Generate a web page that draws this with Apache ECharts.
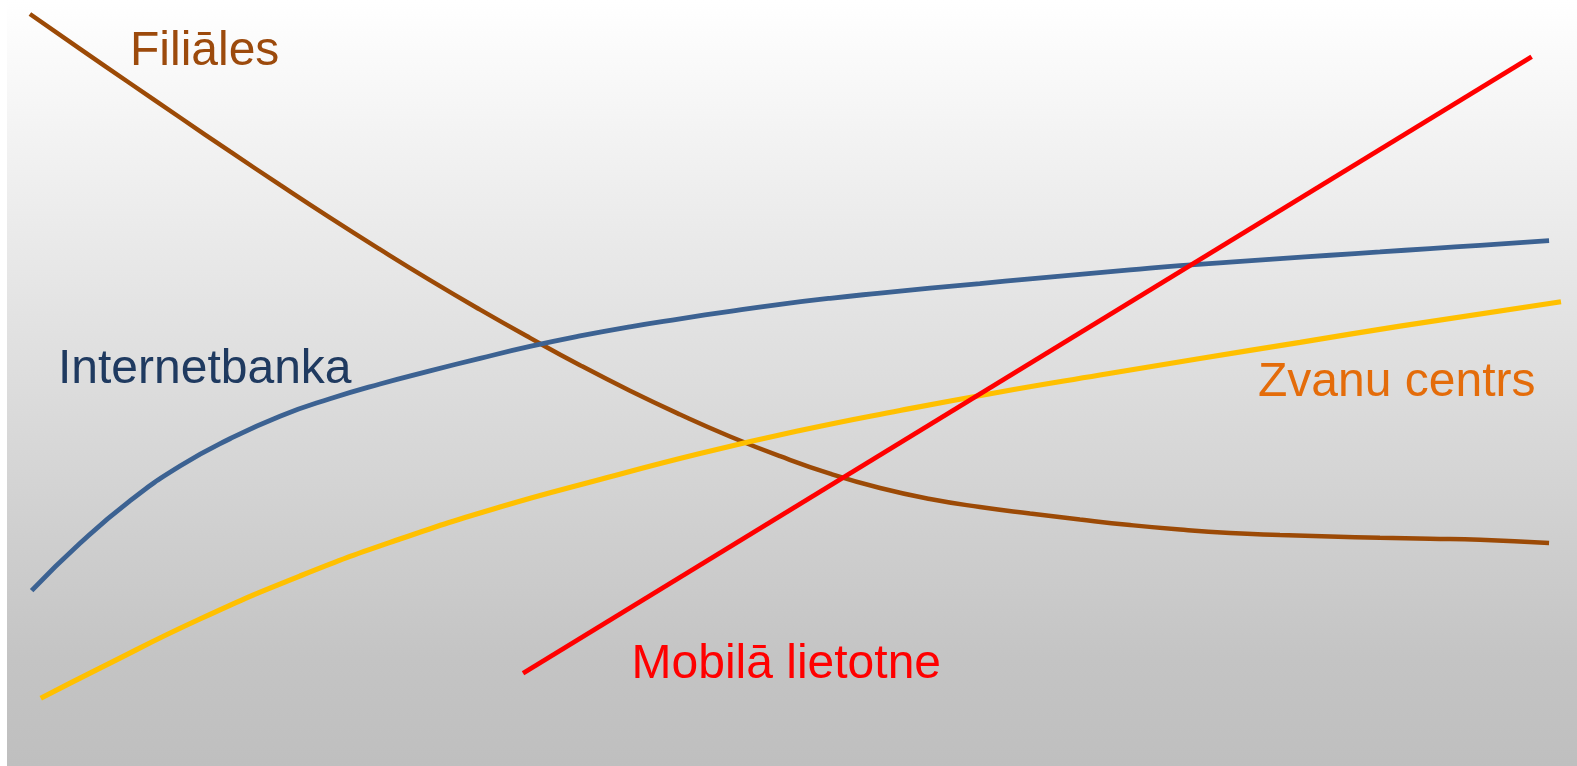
<!DOCTYPE html>
<html>
<head>
<meta charset="utf-8">
<script src="https://cdn.jsdelivr.net/npm/echarts@6/dist/echarts.min.js"></script>
<style>
html,body{margin:0;padding:0;background:#ffffff;width:1577px;height:766px;overflow:hidden;}
#chart{position:absolute;left:7px;top:0;width:1570px;height:766px;}
</style>
</head>
<body>
<div id="chart"></div>
<script>
// Series names
const seriesNames = ['Filiāles', 'Internetbanka', 'Zvanu centrs', 'Mobilā lietotne'];

// Time positions (abstract 0-100 scale) shared by Filiāles / Internetbanka
const timeGrid = [
  4.65, 7.83, 11.02, 14.20, 17.39, 20.57, 23.76, 26.94, 30.13, 33.31,
  36.50, 39.68, 42.87, 46.05, 49.24, 52.42, 55.61, 58.79, 61.97, 65.16,
  68.34, 71.53, 74.71, 77.90, 81.08, 84.27, 87.45, 90.64, 93.82
];

// Values (abstract 0-100 scale)
const filialesStart = [1.46, 98.17];
const filialesValues = [
  93.63, 89.13, 84.66, 80.23, 75.86, 71.59, 67.44, 63.43, 59.58, 55.89,
  52.32, 48.99, 45.89, 43.02, 40.44, 38.16, 36.29, 34.86, 33.81, 32.96,
  32.18, 31.46, 30.87, 30.42, 30.16, 29.96, 29.80, 29.67, 29.53
];
const filialesEnd = [98.22, 29.11];

const internetbankaStart = [1.57, 22.89];
const internetbankaValues = [
  29.07, 34.62, 39.16, 42.72, 45.67, 47.94, 49.87, 51.58, 53.22, 54.77,
  56.14, 57.34, 58.38, 59.36, 60.27, 61.06, 61.74, 62.38, 62.98, 63.59,
  64.18, 64.76, 65.33, 65.78, 66.24, 66.68, 67.11, 67.55, 67.98
];
const internetbankaEnd = [98.22, 68.58];

const zvanuCentrs = [
  [2.15, 8.84], [5.92, 12.78], [12.29, 19.19], [18.66, 24.80], [25.03, 29.63],
  [31.40, 33.81], [37.77, 37.40], [44.14, 40.80], [50.51, 43.80], [56.88, 46.41],
  [63.25, 48.83], [69.62, 51.04], [75.99, 53.20], [82.36, 55.31], [88.73, 57.42],
  [98.98, 60.61]
];
const mobilaLietotne = [
  [32.87, 12.10], [97.11, 92.60]
];

const filiales = [filialesStart].concat(timeGrid.map((t, i) => [t, filialesValues[i]]), [filialesEnd]);
const internetbanka = [internetbankaStart].concat(timeGrid.map((t, i) => [t, internetbankaValues[i]]), [internetbankaEnd]);

const colors = ['#9C4A06', '#3C6292', '#FFC000', '#FF0000'];
const labelColors = ['#9C4A0C', '#1F3A60', '#E46C0A', '#FF0000'];
const widths = [4.5, 4.8, 5.2, 4.8];
const allData = [filiales, internetbanka, zvanuCentrs, mobilaLietotne];

const chart = echarts.init(document.getElementById('chart'), null, {renderer: 'canvas'});

const font = '48px "Liberation Sans", Arial, sans-serif';

const option = {
  animation: false,
  backgroundColor: {
    type: 'linear', x: 0, y: 0, x2: 0, y2: 1,
    colorStops: [
      {offset: 0, color: '#ffffff'},
      {offset: 0.03, color: '#fdfdfd'},
      {offset: 0.86, color: '#c4c4c4'},
      {offset: 1, color: '#bfbfbf'}
    ]
  },
  grid: {left: 0, right: 0, top: 0, bottom: 0, containLabel: false},
  xAxis: {type: 'value', min: 0, max: 100, show: false},
  yAxis: {type: 'value', min: 0, max: 100, show: false},
  series: allData.map((d, i) => ({
    name: seriesNames[i],
    type: 'line',
    data: d,
    smooth: i === 3 ? false : 0.5,
    showSymbol: false,
    silent: true,
    lineStyle: {color: colors[i], width: widths[i], cap: 'butt'},
    z: 2 + (i === 3 ? 1 : 0)
  })),
  graphic: [
    {type: 'text', left: 123, top: 51.4 - 24, z: 10, style: {text: seriesNames[0], font: font, fill: labelColors[0]}},
    {type: 'text', left: 51, top: 369.4 - 24, z: 10, style: {text: seriesNames[1], font: font, fill: labelColors[1]}},
    {type: 'text', left: 1251, top: 382.4 - 24, z: 10, style: {text: seriesNames[2], font: font, fill: labelColors[2]}},
    {type: 'text', left: 624.5, top: 664.4 - 24, z: 10, style: {text: seriesNames[3], font: font, fill: labelColors[3]}}
  ]
};
chart.setOption(option);
</script>
</body>
</html>
